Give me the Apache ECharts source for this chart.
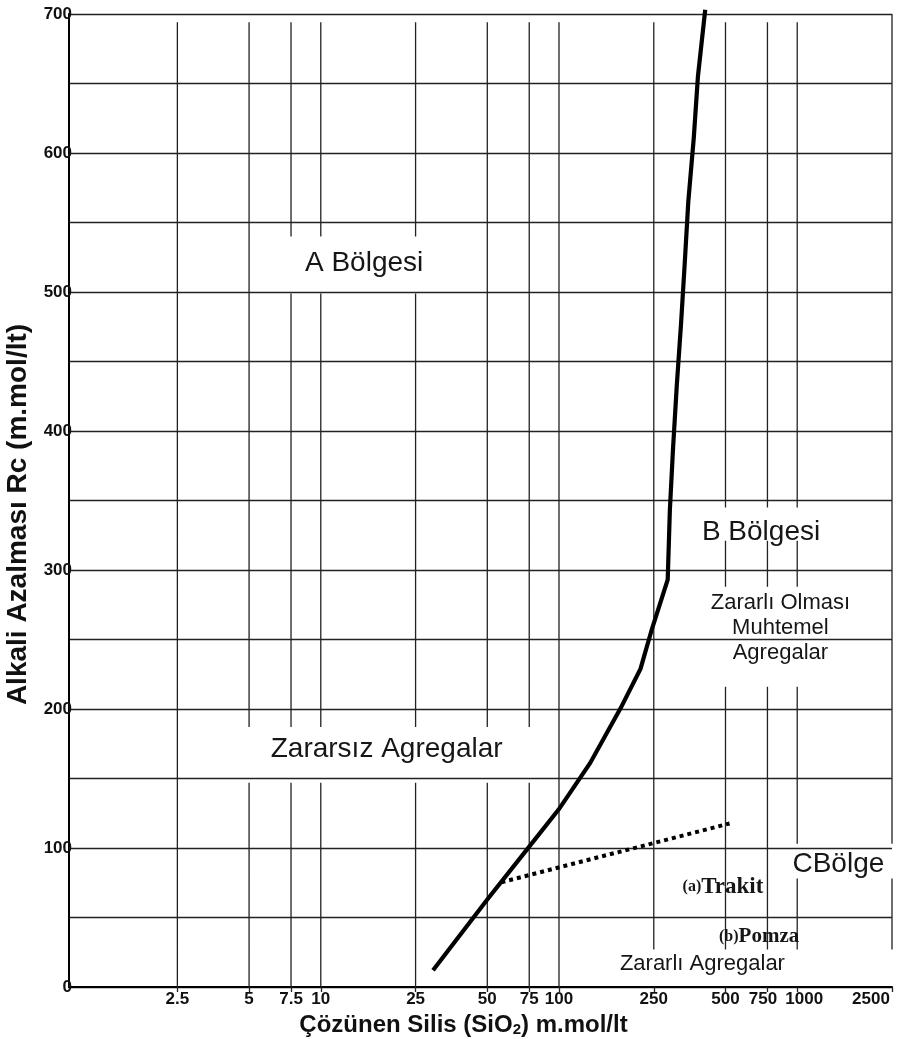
<!DOCTYPE html>
<html><head><meta charset="utf-8">
<script src="https://cdn.jsdelivr.net/npm/echarts@6/dist/echarts.min.js"></script>
<style>html,body{margin:0;padding:0;background:#fff}#c{width:909px;height:1039px}</style>
</head><body><div id="c"></div>
<script>
// ---- data ----
const xTickValues = [2.5, 5, 7.5, 10, 25, 50, 75, 100, 250, 500, 750, 1000, 2500];
const xTickLabels = ['2.5', '5', '7.5', '10', '25', '50', '75', '100', '250', '500', '750', '1000', '2500'];
const yMin = 0, yMax = 700, yStep = 50, yLabelStep = 100;

// boundary curve (x: dissolved silica, y: alkalinity reduction)
const curveX = [29.6, 50, 75, 100, 135, 182, 220, 245, 286, 292, 301, 312, 325, 337, 349, 368, 383, 411];
const curveY = [12, 63, 101, 128, 161, 201, 229, 257, 293, 343, 387, 432, 476, 520, 565, 611, 655, 703];

// dotted line
const dottedX = [57.3, 520];
const dottedY = [75.4, 117.6];

// vertical grid segments: [x, yFrom, yTo]
const gridSegments = [
  [2.5, 694, 0],
  [5, 694, 187], [5, 147, 0],
  [7.5, 694, 540], [7.5, 499, 187], [7.5, 147, 0],
  [10, 694, 540], [10, 499, 187], [10, 147, 0],
  [25, 694, 540], [25, 499, 187], [25, 147, 0],
  [50, 694, 187], [50, 147, 0],
  [75, 694, 187], [75, 147, 0],
  [100, 694, 0],
  [250, 694, 27],
  [500, 694, 345], [500, 321, 288], [500, 216, 27],
  [750, 694, 345], [750, 321, 288], [750, 216, 27],
  [1000, 694, 345], [1000, 321, 288], [1000, 216, 103], [1000, 78, 27],
  [2500, 700, 103], [2500, 78, 27]
];

// annotations: [text, x, y]
const annotTexts = ['A Bölgesi', 'Zararsız Agregalar', 'B Bölgesi', 'Zararlı Olması\nMuhtemel\nAgregalar', 'CBölge', '{s|(a)}{b|Trakit}', '{s|(b)}{p|Pomza}', 'Zararlı Agregalar'];
const annotX = [15.2, 18.9, 705, 850, 1489, 488, 692, 400];
const annotY = [521, 171, 327, 258, 88, 72, 36, 16.5];
const annotSize = [28, 28, 28, 22, 28, 21, 19, 22];

// ---- build ----
const gridLineData = [];
gridSegments.forEach(s => { gridLineData.push([s[0], s[1]], [s[0], s[2]], [s[0], '-']); });
const curveData = curveX.map((x, i) => [x, curveY[i]]);
const dottedData = dottedX.map((x, i) => [x, dottedY[i]]);
const annotData = annotTexts.map((t, i) => ({
  value: [annotX[i], annotY[i]],
  label: { formatter: t, fontSize: annotSize[i], lineHeight: annotSize[i] === 22 ? 25 : annotSize[i] + 4 }
}));
// small per-label nudges so crowded tick labels do not collide (as in the original)
const xLabelStyleKey = { '750': 'l', '1000': 'r', '2500': 'e' };

const textFont = "'Liberation Sans', Arial, sans-serif";
const serif = "'Liberation Serif', 'Times New Roman', serif";
const tickLabelStyle = { color: '#111', fontFamily: textFont, fontWeight: 'bold', fontSize: 17 };
const annotColor = '#161616';
const chart = echarts.init(document.getElementById('c'), null, { renderer: 'canvas' });
chart.setOption({
  animation: false,
  backgroundColor: '#fff',
  grid: { left: 69, right: 17, top: 14, bottom: 52, containLabel: false, outerBoundsMode: 'none' },
  xAxis: {
    type: 'log', logBase: 10, min: 0.877, max: 2500,
    axisLine: { show: true, lineStyle: { color: '#000', width: 2 } },
    axisTick: { show: true, customValues: xTickValues, length: 5, lineStyle: { color: '#222', width: 1.3 } },
    minorTick: { show: false },
    splitLine: { show: false },
    axisLabel: {
      customValues: xTickValues,
      formatter: v => {
        let best = 0;
        xTickValues.forEach((t, i) => { if (Math.abs(Math.log(t) - Math.log(v)) < Math.abs(Math.log(xTickValues[best]) - Math.log(v))) best = i; });
        const txt = xTickLabels[best];
        const k = xLabelStyleKey[txt];
        return k ? '{' + k + '|' + txt + '}' : txt;
      },
      ...tickLabelStyle, margin: 4,
      rich: {
        l: { ...tickLabelStyle, padding: [0, 9, 0, 0] },
        r: { ...tickLabelStyle, padding: [0, 0, 0, 14] },
        e: { ...tickLabelStyle, padding: [0, 42, 0, 0] }
      }
    },
    name: 'Çözünen Silis (SiO{sub|2}) m.mol/lt',
    nameLocation: 'middle', nameGap: 15,
    nameTextStyle: {
      color: '#111', fontFamily: textFont, fontWeight: 'bold', fontSize: 24, padding: [0, 34, 0, 0],
      rich: { sub: { fontSize: 15, fontWeight: 'bold', fontFamily: textFont, color: '#111', verticalAlign: 'bottom', padding: [10, 0, 0, 0] } }
    }
  },
  yAxis: {
    type: 'value', min: yMin, max: yMax, interval: yStep,
    axisLine: { show: true, lineStyle: { color: '#000', width: 2 } },
    axisTick: { show: false },
    splitLine: { show: true, lineStyle: { color: '#222', width: 1.3 } },
    axisLabel: { formatter: v => (v % yLabelStep === 0 ? String(v) : ''), ...tickLabelStyle, margin: -3 },
    name: '{t|Alkali Azalması Rc (m.mol/lt)}{g|}',
    nameLocation: 'middle', nameGap: 36,
    nameTextStyle: {
      color: '#111', fontFamily: textFont, fontWeight: 'bold', fontSize: 28,
      rich: { t: { color: '#111', fontFamily: textFont, fontWeight: 'bold', fontSize: 28 }, g: { width: 28, fontSize: 28 } }
    }
  },
  series: [
    { type: 'line', data: gridLineData, symbol: 'none', connectNulls: false, silent: true, clip: false,
      lineStyle: { color: '#222', width: 1.3 }, z: 1 },
    { type: 'line', data: dottedData, symbol: 'none', lineStyle: { color: '#000', width: 4, type: [4, 4] }, z: 3 },
    { type: 'line', data: curveData, symbol: 'none', clip: false, lineStyle: { color: '#000', width: 4.2, join: 'miter' }, z: 4 },
    { type: 'scatter', data: annotData, symbolSize: 0, silent: true, z: 5, itemStyle: { color: '#000', opacity: 1 },
      label: { show: true, position: 'inside', color: annotColor, opacity: 1, fontFamily: textFont, align: 'center', verticalAlign: 'middle',
        textBorderWidth: 0, textBorderColor: 'transparent',
        rich: {
          s: { fontFamily: serif, fontWeight: 'bold', fontSize: 16, color: annotColor },
          b: { fontFamily: serif, fontWeight: 'bold', fontSize: 23, color: annotColor },
          p: { fontFamily: serif, fontWeight: 'bold', fontSize: 21, color: annotColor }
        } } }
  ]
});
</script></body></html>
